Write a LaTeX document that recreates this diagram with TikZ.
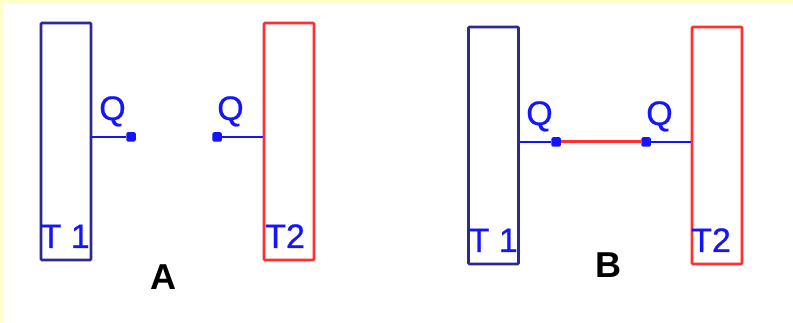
\documentclass[tikz,border=0pt]{standalone}
\usepackage{fontspec}
\setmainfont{Liberation Sans}
\newfontfamily\labelfont[FakeBold=0.6]{Liberation Sans}
\definecolor{navy}{HTML}{2A2A90}
\definecolor{redc}{HTML}{FF3030}
\definecolor{bluec}{HTML}{1414FF}
\definecolor{bgy}{HTML}{FFFFCC}
\tikzset{
  tankblue/.style={draw=navy, line width=2.8pt, minimum width=50pt, minimum height=237pt, inner sep=0pt, rounded corners=1pt},
  tankred/.style={draw=redc, line width=2.8pt, minimum width=50pt, minimum height=237pt, inner sep=0pt, rounded corners=1pt},
  dot/.style={fill=bluec, minimum size=9.5pt, inner sep=0pt, rounded corners=1.5pt},
  stub/.style={draw=bluec, line width=2.2pt},
  pipe/.style={draw=redc, line width=3pt},
  lbl/.style={text=bluec, font=\labelfont\fontsize{34}{34}\selectfont, inner sep=0pt},
  big/.style={text=black, font=\fontsize{36}{36}\selectfont\bfseries, inner sep=0pt}
}
\begin{document}
\begin{tikzpicture}[x=1pt,y=-1pt]
\fill[bgy] (0,0) rectangle (793,323);
\fill[white] (4,4) rectangle (793,323);
\useasboundingbox (0,0) rectangle (793,323);

% Panel A
\node[tankblue] (t1a) at (66,141.5) {};
\node[tankred]  (t2a) at (289,141.5) {};
\node[dot] (qa1) at (131,137) {};
\node[dot] (qa2) at (217,137) {};
\draw[stub] (t1a.east |- qa1) -- (qa1);
\draw[stub] (t2a.west |- qa2) -- (qa2);
\node[lbl, anchor=base] (qla1) at (112.5,120) {Q};
\node[lbl, anchor=base] (qla2) at (230.5,120) {Q};
\node[lbl, anchor=base west] (ta1) at (40.5,248) {T 1};
\node[lbl, anchor=base west] (ta2) at (265,248) {T2};
\node[big, anchor=base] (la) at (163,290) {A};

% Panel B
\node[tankblue] (t1b) at (493.5,145.5) {};
\node[tankred]  (t2b) at (717,145.5) {};
\node[dot] (qb1) at (556,142) {};
\node[dot] (qb2) at (646,142) {};
\draw[stub] (t1b.east |- qb1) -- (qb1);
\draw[stub] (t2b.west |- qb2) -- (qb2);
\draw[pipe] (qb1.east) -- (qb2.west);
\node[lbl, anchor=base] (qlb1) at (539.5,125) {Q};
\node[lbl, anchor=base] (qlb2) at (659.5,125) {Q};
\node[lbl, anchor=base west] (tb1) at (468.5,252) {T 1};
\node[lbl, anchor=base west] (tb2) at (691,252) {T2};
\node[big, anchor=base] (lb) at (608.5,278) {B};
\end{tikzpicture}
\end{document}
